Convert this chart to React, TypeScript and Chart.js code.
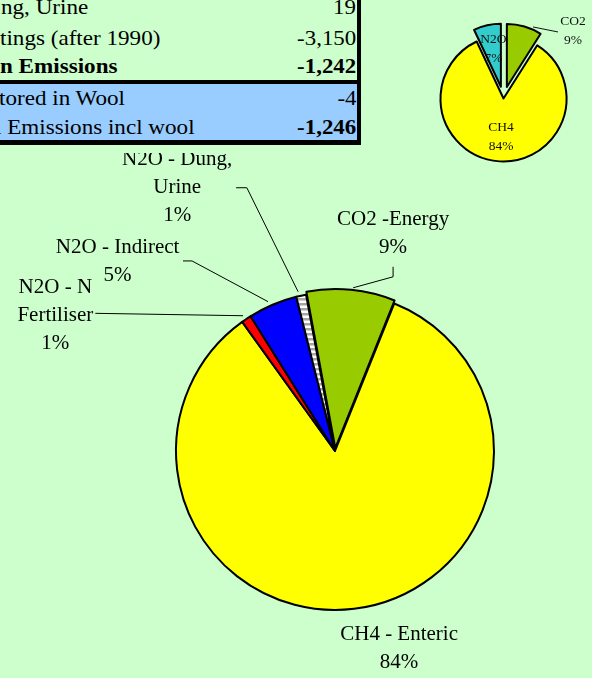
import React, { useEffect, useRef } from "react";
import { Chart, registerables } from "chart.js";

Chart.register(...registerables);

const PAGE_BG = "#CCFFCC";
const SERIF = "'Liberation Serif', 'Times New Roman', serif";

// ---------- table (visible part) ----------
const tableRowLabels = ["ng, Urine", "tings (after 1990)", "n Emissions", "tored in Wool", "l Emissions incl wool"];
const tableRowValues = ["19", "-3,150", "-1,242", "-4", "-1,246"];

// ---------- main pie: emission sources ----------
const sourceLabels = ["CO2 -Energy", "CH4 - Enteric", "N2O - N Fertiliser", "N2O - Indirect", "N2O - Dung, Urine"];
const sourceLabelLines = [["CO2 -Energy"], ["CH4 - Enteric"], ["N2O - N", "Fertiliser"], ["N2O - Indirect"], ["N2O - Dung,", "Urine"]];
const sourceValues = [9, 84, 1, 5, 1];

// ---------- small pie: gases ----------
const gasLabels = ["CO2", "CH4", "N2O"];
const gasValues = [9, 84, 7];

// ---------- styles ----------
const tableRowStyle = [
  { baseline: 15, left: 1, bold: false, valueBold: false },
  { baseline: 46, left: 0, bold: false, valueBold: false },
  { baseline: 74, left: 0, bold: true, valueBold: true },
  { baseline: 106, left: -1, bold: false, valueBold: false },
  { baseline: 135, left: -4.8, bold: false, valueBold: true },
];

const explodePlugin = {
  id: "sliceExplode",
  beforeDatasetDraw(chart: any, args: any, opts: any) {
    const dist: number[] = (opts && opts.distances) || [];
    args.meta.data.forEach((arc: any, i: number) => {
      const d = dist[i] || 0;
      if (!d || arc.__exploded) return;
      const orig = arc.draw.bind(arc);
      arc.draw = (ctx: CanvasRenderingContext2D, area: any) => {
        const mid = (arc.startAngle + arc.endAngle) / 2;
        ctx.save();
        ctx.translate(Math.cos(mid) * d, Math.sin(mid) * d);
        orig(ctx, area);
        ctx.restore();
      };
      arc.__exploded = true;
    });
  },
};

const labelPlugin = {
  id: "sliceLabels",
  afterDatasetsDraw(chart: any, _args: any, opts: any) {
    const meta = chart.getDatasetMeta(0);
    const ctx: CanvasRenderingContext2D = chart.ctx;
    const values: number[] = chart.data.datasets[0].data;
    const total = values.reduce((a, b) => a + b, 0);
    const dist: number[] = (chart.options.plugins.sliceExplode && chart.options.plugins.sliceExplode.distances) || [];
    ctx.save();
    ctx.font = opts.font;
    ctx.fillStyle = opts.color;
    ctx.strokeStyle = opts.color;
    ctx.lineWidth = 1;
    ctx.textAlign = "center";
    ctx.textBaseline = "middle";
    meta.data.forEach((arc: any, i: number) => {
      const spec = opts.specs[i];
      const mid = (arc.startAngle + arc.endAngle) / 2;
      const d = dist[i] || 0;
      const cx = arc.x + Math.cos(mid) * d;
      const cy = arc.y + Math.sin(mid) * d;
      const ax = cx + Math.cos(mid) * arc.outerRadius * spec.radial;
      const ay = cy + Math.sin(mid) * arc.outerRadius * spec.radial;
      if (spec.leader) {
        ctx.beginPath();
        spec.leader.forEach((p: number[], k: number) => {
          if (k === 0) ctx.moveTo(ax + p[0], ay + p[1]);
          else ctx.lineTo(ax + p[0], ay + p[1]);
        });
        ctx.stroke();
      }
      const pct = Math.round((values[i] / total) * 100) + "%";
      const lines = [...opts.lines[i], pct];
      lines.forEach((ln: string, k: number) => {
        ctx.fillText(ln, ax + spec.dx, ay + spec.dy + k * opts.lineHeight);
      });
    });
    ctx.restore();
  },
};

function makeStripePattern(): CanvasPattern | string {
  const c = document.createElement("canvas");
  c.width = 4;
  c.height = 5;
  const g = c.getContext("2d");
  if (!g) return "#cccccc";
  g.fillStyle = "#ffffff";
  g.fillRect(0, 0, 4, 5);
  g.fillStyle = "#a6a6a6";
  g.fillRect(0, 0, 4, 2);
  g.fillStyle = "#d0d0d0";
  g.fillRect(0, 2, 4, 1);
  return g.createPattern(c, "repeat") || "#cccccc";
}

export default function App() {
  const mainRef = useRef<HTMLCanvasElement>(null);
  const gasRef = useRef<HTMLCanvasElement>(null);

  useEffect(() => {
    const charts: Chart[] = [];
    if (mainRef.current) {
      charts.push(
        new Chart(mainRef.current, {
          type: "pie",
          data: {
            labels: sourceLabels,
            datasets: [
              {
                data: sourceValues,
                backgroundColor: ["#99CC00", "#FFFF00", "#FF0000", "#0000FF", makeStripePattern()] as any,
                borderColor: "#000000",
                borderWidth: 2,
                borderJoinStyle: "round",
                clip: false,
              } as any,
            ],
          },
          options: {
            responsive: false,
            animation: false,
            events: [],
            rotation: -10.5,
            radius: 159,
            layout: { padding: { left: 78, right: 0, top: 71, bottom: 0 } },
            plugins: {
              legend: { display: false },
              tooltip: { enabled: false },
              sliceExplode: { distances: [3, 0, 0, 0, 0] },
              sliceLabels: {
                font: `21px ${SERIF}`,
                color: "#000000",
                lineHeight: 28,
                lines: sourceLabelLines,
                specs: [
                  { radial: 1, dx: 42, dy: -70, leader: [[2, -2], [42, -13], [42, -23]] },
                  { radial: 1, dx: 45, dy: 26 },
                  { radial: 1, dx: -191, dy: -32, leader: [[-3.3, -3.3], [-151, -5.7]] },
                  { radial: 1, dx: -155, dy: -57, leader: [[-4.6, -3.1], [-80.6, -43.8], [-89.6, -43.8]] },
                  { radial: 1, dx: -124, dy: -136, leader: [[-3, -3.9], [-54.3, -107.9], [-65, -107.9]] },
                ],
              },
            } as any,
          } as any,
          plugins: [explodePlugin, labelPlugin],
        })
      );
    }
    if (gasRef.current) {
      charts.push(
        new Chart(gasRef.current, {
          type: "pie",
          data: {
            labels: gasLabels,
            datasets: [
              {
                data: gasValues,
                backgroundColor: ["#99CC00", "#FFFF00", "#33CCCC"],
                borderColor: "#000000",
                borderWidth: 2,
                borderJoinStyle: "round",
                clip: false,
              } as any,
            ],
          },
          options: {
            responsive: false,
            animation: false,
            events: [],
            rotation: 0,
            radius: 63,
            layout: { padding: { left: 0, right: 5, top: 27, bottom: 0 } },
            plugins: {
              legend: { display: false },
              tooltip: { enabled: false },
              sliceExplode: { distances: [12, 0, 12] },
              sliceLabels: {
                font: `13.5px ${SERIF}`,
                color: "#111111",
                lineHeight: 19,
                lines: [["CO2"], ["CH4"], ["N2O"]],
                specs: [
                  { radial: 1, dx: 48.6, dy: -5.5, leader: [[8.6, 0.5], [33.6, 5.5]] },
                  { radial: 0.61, dx: 0, dy: -9 },
                  { radial: 0.61, dx: 1, dy: -10 },
                ],
              },
            } as any,
          } as any,
          plugins: [explodePlugin, labelPlugin],
        })
      );
    }
    return () => charts.forEach((c) => c.destroy());
  }, []);

  const fs = 21;
  const baselineOffset = 17.6;

  return (
    <div
      style={{
        position: "fixed",
        left: 0,
        top: 0,
        width: 592,
        height: 678,
        overflow: "hidden",
        background: PAGE_BG,
        fontFamily: SERIF,
      }}
    >
      {/* table bands */}
      <div style={{ position: "absolute", left: 0, top: 84, width: 357, height: 56, background: "#99CCFF" }} />
      <div style={{ position: "absolute", left: 0, top: 79.5, width: 361, height: 4.5, background: "#000" }} />
      <div style={{ position: "absolute", left: 0, top: 140, width: 361, height: 4.5, background: "#000" }} />
      <div style={{ position: "absolute", left: 357, top: 0, width: 4, height: 144.5, background: "#000" }} />
      {tableRowLabels.map((t, i) => {
        const st = tableRowStyle[i];
        return (
          <React.Fragment key={i}>
            <span
              style={{
                position: "absolute",
                left: st.left,
                top: st.baseline - baselineOffset,
                fontSize: fs,
                lineHeight: `${fs}px`,
                whiteSpace: "nowrap",
                fontWeight: st.bold ? "bold" : "normal",
                transform: "scaleX(1.1)",
                transformOrigin: "left center",
                color: "#000",
              }}
            >
              {t}
            </span>
            <span
              style={{
                position: "absolute",
                right: 592 - 356,
                top: st.baseline - baselineOffset,
                fontSize: fs,
                lineHeight: `${fs}px`,
                whiteSpace: "nowrap",
                fontWeight: st.valueBold ? "bold" : "normal",
                transform: "scaleX(1.09)",
                transformOrigin: "right center",
                color: "#000",
              }}
            >
              {tableRowValues[i]}
            </span>
          </React.Fragment>
        );
      })}
      <canvas
        ref={gasRef}
        width={172}
        height={170}
        style={{ position: "absolute", left: 420, top: 0, width: 172, height: 170 }}
      />
      <canvas
        ref={mainRef}
        width={592}
        height={525}
        style={{ position: "absolute", left: 0, top: 153, width: 592, height: 525 }}
      />
    </div>
  );
}
